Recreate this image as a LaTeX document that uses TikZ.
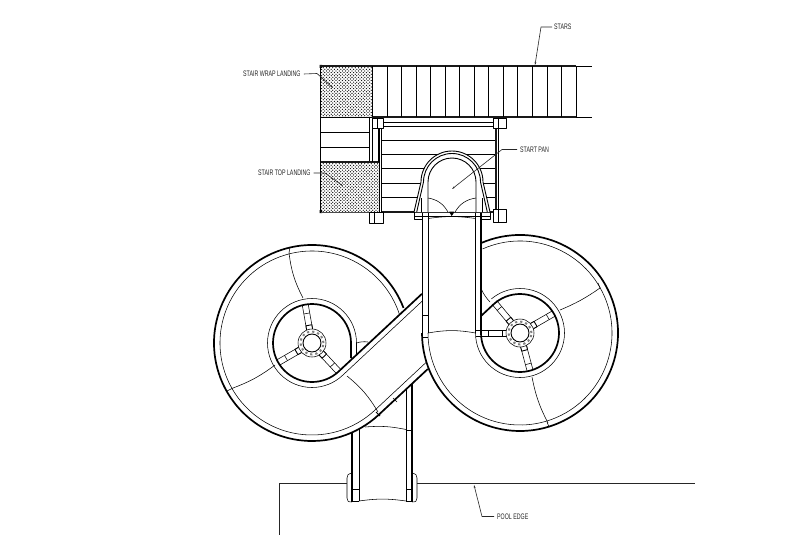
\documentclass[tikz,border=0pt]{standalone}
\usepackage{fontspec}
\newfontfamily\labelfont[FakeStretch=0.66]{Liberation Sans}
\usetikzlibrary{patterns,arrows.meta}
\pgfdeclarepatternformonly{landingdots}{\pgfqpoint{-1pt}{-1pt}}{\pgfqpoint{4pt}{4pt}}{\pgfqpoint{3.2pt}{3.2pt}}{
  \pgfpathcircle{\pgfqpoint{0pt}{0pt}}{0.65pt}
  \pgfpathcircle{\pgfqpoint{1.6pt}{1.6pt}}{0.65pt}
  \pgfusepath{fill}
}
\tikzset{
 thk/.style={line width=1.7pt,black},
 stairline/.style={line width=1.2pt,black!90},
 med/.style={line width=0.9pt,black},
 thn/.style={line width=0.55pt,black},
 lead/.style={line width=0.6pt,black!85,-{Stealth[length=3pt,width=1.6pt]}},
 lab/.style={font=\labelfont\fontsize{8}{8}\selectfont,inner sep=0pt,text=black!85},
 dotfill/.style={pattern=landingdots,pattern color=black},
}
\begin{document}
\begin{tikzpicture}[x=1pt,y=1pt,line join=round]
\useasboundingbox (0,-535) rectangle (800,0);
\fill[white] (0,-535) rectangle (800,0);
% ---------- landings
\fill[dotfill] (320,-66) rectangle (372,-117);
\fill[dotfill] (321,-162) rectangle (379,-212);
\draw[med] (320.5,-66) -- (320.5,-212);
\fill (319.5,-65) rectangle (322,-68) (319.5,-210) rectangle (322,-213);
\draw[stairline] (320,-66) -- (372,-66);
\draw[med] (372,-66) -- (372,-117);
\draw[thk] (320,-117.5) -- (372,-117.5);
% stairs
\draw[stairline] (372,-66) -- (576,-66);
\draw[stairline] (372,-117) -- (576,-117);
\draw[med] (576,-66) -- (592,-66) (576,-117) -- (592,-117);
\foreach \i in {0,...,14} \draw[med] ({372.4+14.55*\i},-66) -- ({372.4+14.55*\i},-117);
% lower stairs
\draw[med] (369.5,-117) -- (369.5,-162);
\draw[med] (321,-132.7) -- (369.5,-132.7) (321,-147) -- (369.5,-147);
\draw[stairline] (320.5,-162) -- (379,-162);
\draw[med] (379.5,-128) -- (379.5,-212);
\draw[thn] (372,-128) -- (372,-162) (378,-128) -- (378,-162);
\draw[thn,black!60] (321,-212.5) -- (369,-212.5);
\draw[black!70,line width=.8pt] (321,-212) -- (380,-212);
% deck
\draw[thn] (381,-122.7) -- (495,-122.7);
\foreach \y in {-126,-140,-154.7,-168.7,-183,-197} \draw[med] (381,\y) -- (496,\y);
\draw[stairline] (381,-212) -- (497,-212);
\draw[med] (381.5,-126) -- (381.5,-212);
\draw[stairline] (496,-126) -- (496,-212);
\draw[thn] (498,-128) -- (498,-209);
% posts
\foreach \a/\b/\c/\d in {372/-118/383/-128,493/-118/506/-128,369/-212/383/-223,493/-209/506/-222}{
  \draw[med,fill=white] (\a,\b) rectangle (\c,\d);
  \draw[thn] (\a+5,\b) -- (\a+5,\d);
}
% arch (start pan)
\fill[white] (414,-212) -- (421,-182) arc[start angle=180,end angle=0,radius=31pt] -- (490,-212) -- cycle;
\draw[med] (414,-212) -- (421,-182) arc[start angle=180,end angle=0,radius=31pt] -- (490,-212);
\draw[med] (416.7,-212) -- (423.5,-182) arc[start angle=180,end angle=0,radius=28.5pt] -- (487.3,-212);
\draw[med] (428,-212) -- (428,-182) arc[start angle=180,end angle=0,radius=24pt] -- (476,-212);
\draw[thn] (421.7,-198) -- (421.7,-212) (482.3,-198) -- (482.3,-212);
\draw[thn] (428,-198) to[bend left=25] (448,-212);
\draw[thn] (455,-212) to[bend left=25] (476,-198);
\draw[thn,fill=black] (449.5,-212) -- (451.7,-215.5) -- (454,-212) -- cycle;
\draw[thn] (414,-216) -- (490,-216);
\draw[thn] (414,-212) -- (414,-219) -- (422,-219) (490,-212) -- (490,-219) -- (482,-219);
% ---------- vertical slide
\draw[thk] (422.5,-333) -- (422.5,-213);
\draw[thn] (428,-333) -- (428,-213);
\draw[thn] (475.5,-333) -- (475.5,-213);
\draw[thk] (481,-333) -- (481,-213);
\draw[thn] (428,-218.5) to[bend left=8] (475.5,-218.5);
\draw[thn] (422,-315) -- (428,-315);
\draw[med] (422,-337) -- (428,-337);
\draw[thn] (428,-333) to[bend left=10] (475.5,-333);
% ---------- bottom slide
\draw[thk] (352,-433) -- (352,-502);
\draw[thn] (359,-429) -- (359,-501);
\draw[thn] (406,-389) -- (406,-501);
\draw[thk] (412,-384) -- (412,-502);
\draw[thn] (365,-427) to[bend left=8] (406,-429.5);
\draw[thn] (406,-430) -- (412,-430);
\draw[thn] (352,-489) -- (359,-489) (406,-489) -- (412,-489);
\draw[med] (352,-501.5) -- (359,-501.5) (406,-501.5) -- (412,-501.5);
\draw[thn] (359,-501) to[bend left=8] (406,-501);
\draw[thn] (352,-473) .. controls (348,-474) and (347,-475) .. (347,-478) -- (347,-498) .. controls (347,-501) and (348,-502) .. (352,-502);
\draw[thn] (412,-473) .. controls (416,-474) and (417,-475) .. (417,-478) -- (417,-498) .. controls (417,-501) and (416,-502) .. (412,-502);
% ---------- pool edge
\draw[med,black!85] (279,-535) -- (279,-483) -- (347,-483);
\draw[med,black!85] (417,-483) -- (695,-483);
% ---------- left spiral
\begin{scope}[shift={(312,-343)}]
 \draw[thk] (21:98pt) arc[start angle=21,end angle=313,radius=98pt] -- ++(43:67pt);
 \draw[thn] (18:92pt) arc[start angle=18,end angle=313,radius=92pt] -- ++(43:71pt);
 \draw[thk] (39,-15) -- (39,0) arc[start angle=0,end angle=313,radius=39pt] -- ++(43:114pt);
 \draw[thn] (44.5,-12) -- (44.5,0) arc[start angle=0,end angle=313,radius=44.5pt] -- ++(43:110pt);
 \draw[thn] (44.5,0) to[bend left=12] (56,1);
 \draw[thn] (-23,90) to[bend right=10] (-9,45);
 \draw[thn] (-23,90) -- (-22,96);
 \draw[thn] (-79,-45) to[bend right=8] (-37,-22);
 \draw[thn] (35,-33) to[bend left=10] (66,-69);
 \draw[thn] (-79,-45) -- (-85,-48);
 \draw[med] (64,-69) -- (68,-73);
 \draw[thn] (81,-55) -- (85,-59);
 \foreach \a in {100,210,313}{
  \begin{scope}[rotate=\a]
   \draw[thn] (13,-3) -- (39,-3) (13,3) -- (39,3);
   \draw[thn] (30,-3) -- (30,3);
   \draw[med,fill=white] (13,-3) rectangle (18,3);
  \end{scope}
 }
 \draw[thn,fill=white] (0,0) circle[radius=14pt];
 \draw[line width=2pt,black!50,dash pattern=on 2.2pt off 3pt] (0,0) circle[radius=11.5pt];
 \draw[med,fill=white] (0,0) circle[radius=9pt];
\end{scope}
% ---------- right spiral
\begin{scope}[shift={(520,-333)}]
 \draw[thk] (113:98pt) arc[start angle=113,end angle=-180,radius=98pt];
 \draw[thn] (114:92pt) arc[start angle=114,end angle=-180,radius=92pt];
 \draw[thk] (-39,0) arc[start angle=180,end angle=493,radius=39pt] -- (-39,17);
 \draw[thn] (-44.5,0) arc[start angle=180,end angle=490,radius=44.5pt];
 \draw[thn] (-38.3,43) to[bend right=8] (-30,31);
 \draw[thn] (80,45) to[bend left=6] (40,23);
 \draw[thn] (80,45) -- (78,50);
 \draw[thn] (12,-44) to[bend right=8] (28,-90);
 \draw[thn] (27,-89) -- (29,-94);
 \foreach \a/\l in {30/39,-75/39,180/44,130/40}{
  \begin{scope}[rotate=\a]
   \draw[thn] (13,-3) -- (\l,-3) (13,3) -- (\l,3);
   \draw[thn] (32,-3) -- (32,3);
   \draw[med,fill=white] (13,-3) rectangle (18,3);
  \end{scope}
 }
 \draw[thn,fill=white] (0,0) circle[radius=14pt];
 \draw[line width=2pt,black!50,dash pattern=on 2.2pt off 3pt] (0,0) circle[radius=11.5pt];
 \draw[med,fill=white] (0,0) circle[radius=9pt];
\end{scope}
% ---------- labels and leaders
\node[lab,anchor=west] (stars) at (554,-27) {STARS};
\coordinate (starsA) at (541,-27);
\coordinate (starsB) at (535,-65);
\draw[lead] (stars.west) ++(-2,0) -- (starsA) -- (starsB);
\node[lab,anchor=west] (wrap) at (243,-74) {STAIR WRAP LANDING};
\coordinate (wrapA) at (317,-73.5);
\coordinate (wrapB) at (333,-88);
\draw[lead] (wrap.east) ++(3,0) -- (wrapA) -- (wrapB);
\node[lab,anchor=west] (top) at (258,-173) {STAIR TOP LANDING};
\coordinate (topA) at (325,-173);
\coordinate (topB) at (343,-186);
\draw[lead] (top.east) ++(3,0) -- (topA) -- (topB);
\node[lab,anchor=west] (pan) at (520,-149.5) {START PAN};
\coordinate (panA) at (502,-149.5);
\coordinate (panB) at (452,-189);
\draw[lead] (pan.west) ++(-3,0) -- (panA) -- (panB);
\node[lab,anchor=west] (pool) at (497,-516.5) {POOL EDGE};
\coordinate (poolA) at (482,-516.5);
\coordinate (poolB) at (474,-485);
\draw[lead] (pool.west) ++(-3,0) -- (poolA) -- (poolB);
\end{tikzpicture}
\end{document}
